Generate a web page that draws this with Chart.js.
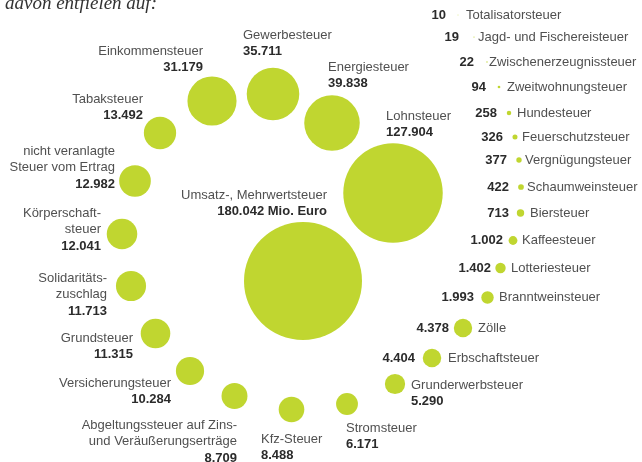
<!DOCTYPE html>
<html>
<head>
<meta charset="utf-8">
<script src="https://cdn.jsdelivr.net/npm/chart.js@4.4.1/dist/chart.umd.min.js"></script>
<style>
  html, body { margin: 0; padding: 0; background: #fff; }
  #wrap { position: relative; width: 642px; height: 462px; }
</style>
</head>
<body>
<div id="wrap"><canvas id="taxChart"></canvas></div>
<script>
// --- Données (Mio. Euro) ---
const categories = [
    'Umsatz-, Mehrwertsteuer', 'Lohnsteuer', 'Energiesteuer', 'Gewerbesteuer', 'Einkommensteuer',
    'Tabaksteuer', 'nicht veranlagte\nSteuer vom Ertrag', 'Körperschaft-\nsteuer', 'Solidaritäts-\nzuschlag',
    'Grundsteuer', 'Versicherungsteuer', 'Abgeltungssteuer auf Zins-\nund Veräußerungserträge', 'Kfz-Steuer',
    'Stromsteuer', 'Grunderwerbsteuer', 'Erbschaftsteuer', 'Zölle', 'Branntweinsteuer', 'Lotteriesteuer',
    'Kaffeesteuer', 'Biersteuer', 'Schaumweinsteuer', 'Vergnügungsteuer', 'Feuerschutzsteuer',
    'Hundesteuer', 'Zweitwohnungsteuer', 'Zwischenerzeugnissteuer', 'Jagd- und Fischereisteuer', 'Totalisatorsteuer'
];
const values = [
    180042, 127904, 39838, 35711, 31179,
    13492, 12982, 12041, 11713,
    11315, 10284, 8709, 8488,
    6171, 5290, 4404, 4378, 1993, 1402,
    1002, 713, 422, 377, 326,
    258, 94, 22, 19, 10
];
const titleText = 'davon entfielen auf:';
const unitText = ' Mio. Euro';

// --- Mise en page (coordonnées de l'axe, 0..642 x 0..462) ---
const posX = [303, 393, 332, 273, 212, 160, 135, 122, 131, 155.5, 190, 234.5, 291.5, 347, 395, 432, 463,
    487.5, 500.5, 513, 520.5, 521, 519, 515, 509, 499, 487, 474, 458];
const posY = [281, 193, 123, 94, 101, 133, 181, 234, 286, 333.5, 371, 396, 409.5, 404, 384, 358, 328,
    297.5, 268, 240.5, 213, 187, 160, 137, 113, 87, 62, 37, 15];

// étiquettes empilées : {x, y, align} ; étiquettes en ligne : {vx, nx}
const labelPos = [
    { x: 327, y: 195, align: 'right' },
    { x: 386, y: 116, align: 'left' },
    { x: 328, y: 67, align: 'left' },
    { x: 243, y: 35, align: 'left' },
    { x: 203, y: 51, align: 'right' },
    { x: 143, y: 99, align: 'right' },
    { x: 115, y: 151, align: 'right' },
    { x: 101, y: 213, align: 'right' },
    { x: 107, y: 278, align: 'right' },
    { x: 133, y: 338, align: 'right' },
    { x: 171, y: 383, align: 'right' },
    { x: 237, y: 425, align: 'right' },
    { x: 261, y: 439, align: 'left' },
    { x: 346, y: 428, align: 'left' },
    { x: 411, y: 385, align: 'left' },
    { vx: 415, nx: 448 },
    { vx: 449, nx: 478 },
    { vx: 474, nx: 499 },
    { vx: 491, nx: 511 },
    { vx: 503, nx: 522 },
    { vx: 509, nx: 530 },
    { vx: 509, nx: 527 },
    { vx: 507, nx: 525 },
    { vx: 503, nx: 522 },
    { vx: 497, nx: 517 },
    { vx: 486, nx: 507 },
    { vx: 474, nx: 489 },
    { vx: 459, nx: 478 },
    { vx: 446, nx: 466 }
];

const GREEN = 'rgb(192, 214, 48)';
const NAME_COLOR = '#505050';
const VALUE_COLOR = '#2b2b2b';
const FONT = '"Liberation Sans", Arial, sans-serif';
const RADIUS_K = 59 / Math.sqrt(180042); // aire proportionnelle à la valeur

function formatDe(n) {
    return String(n).replace(/\B(?=(\d{3})+(?!\d))/g, '.');
}

const labelPlugin = {
    id: 'taxLabels',
    afterDatasetsDraw(chart) {
        const ctx = chart.ctx;
        const sx = chart.scales.x, sy = chart.scales.y;
        ctx.save();

        // titre
        ctx.font = 'italic 19px "Liberation Serif", "DejaVu Serif", serif';
        ctx.fillStyle = '#333';
        ctx.textAlign = 'left';
        ctx.textBaseline = 'alphabetic';
        ctx.fillText(titleText, 5, 9);

        ctx.textBaseline = 'middle';
        categories.forEach((name, i) => {
            const lp = labelPos[i];
            const valueStr = formatDe(values[i]) + (i === 0 ? unitText : '');
            if (lp.vx !== undefined) {
                const y = sy.getPixelForValue(posY[i]);
                ctx.font = 'bold 13px ' + FONT;
                ctx.fillStyle = VALUE_COLOR;
                ctx.textAlign = 'right';
                ctx.fillText(valueStr, sx.getPixelForValue(lp.vx), y);
                ctx.font = '13px ' + FONT;
                ctx.fillStyle = NAME_COLOR;
                ctx.textAlign = 'left';
                ctx.fillText(name, sx.getPixelForValue(lp.nx), y);
            } else {
                const x = sx.getPixelForValue(lp.x);
                let y = sy.getPixelForValue(lp.y);
                ctx.textAlign = lp.align;
                ctx.font = '13px ' + FONT;
                ctx.fillStyle = NAME_COLOR;
                name.split('\n').forEach(line => {
                    ctx.fillText(line, x, y);
                    y += 16.5;
                });
                ctx.font = 'bold 13px ' + FONT;
                ctx.fillStyle = VALUE_COLOR;
                ctx.fillText(valueStr, x, y);
            }
        });
        ctx.restore();
    }
};

const points = values.map((v, i) => ({ x: posX[i], y: posY[i], r: RADIUS_K * Math.sqrt(v) }));

new Chart(document.getElementById('taxChart'), {
    type: 'bubble',
    data: {
        datasets: [{
            data: points,
            backgroundColor: GREEN,
            borderWidth: 0,
            hoverRadius: 0,
            hoverBorderWidth: 0,
            clip: false
        }]
    },
    options: {
        responsive: true,
        maintainAspectRatio: false,
        animation: false,
        events: [],
        layout: { padding: 0, autoPadding: false },
        plugins: { legend: { display: false }, tooltip: { enabled: false } },
        scales: {
            x: { type: 'linear', min: 0, max: 642, display: false },
            y: { type: 'linear', min: 0, max: 462, reverse: true, display: false }
        }
    },
    plugins: [labelPlugin]
});
</script>
</body>
</html>
